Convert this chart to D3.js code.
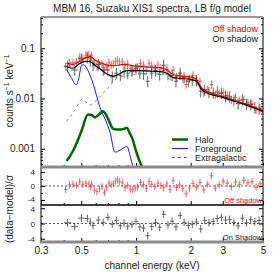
<!DOCTYPE html>
<html><head><meta charset="utf-8">
<script src="https://cdn.jsdelivr.net/npm/d3@7"></script>
<style>
body{margin:0;background:#fff}
text{font-family:"Liberation Sans",Arial,sans-serif}
</style>
</head><body>
<script>
// off-shadow spectrum (red)
var offE = [0.41,0.43,0.45,0.47,0.49,0.51,0.53,0.55,0.56,0.57,0.59,0.61,0.63,0.65,0.67,0.69,0.71,0.73,0.75,0.77,0.79,0.81,0.84,0.87,0.90,0.93,0.96,0.99,1.02,1.06,1.10,1.14,1.18,1.22,1.27,1.32,1.37,1.42,1.48,1.54,1.60,1.67,1.74,1.81,1.89,1.97,2.06,2.15,2.25,2.36,2.48,2.60,2.73,2.87,3.02,3.18,3.35,3.53,3.72,3.92,4.13,4.35,4.58,4.82];
var offRate = [0.043,0.051,0.052,0.053,0.066,0.063,0.073,0.074,0.065,0.071,0.050,0.043,0.047,0.049,0.036,0.044,0.052,0.047,0.049,0.055,0.058,0.054,0.054,0.045,0.049,0.040,0.038,0.040,0.042,0.050,0.046,0.037,0.050,0.045,0.040,0.046,0.041,0.036,0.040,0.028,0.037,0.027,0.029,0.025,0.019,0.025,0.029,0.023,0.022,0.013,0.015,0.019,0.0118,0.0127,0.0132,0.0115,0.0094,0.0105,0.0091,0.0095,0.0082,0.0078,0.0059,0.0064];
var offResid = [-1.0,0.3,0.5,0.2,1.2,0.4,0.8,0.6,-0.3,0.5,-1.2,-1.6,-0.8,-0.2,-1.8,-0.5,0.9,0.3,0.6,1.4,1.7,1.2,0.9,-0.4,0.2,-0.9,-1.1,-0.6,-0.3,1.0,0.4,-0.7,1.3,0.5,-0.2,0.8,0.1,-0.5,0.6,-1.0,1.5,-0.4,0.3,-0.8,-2.2,-0.6,0.7,-0.3,1.0,-1.1,0.5,2.9,-0.6,0.4,1.4,0.8,-0.2,1.1,0.5,1.6,0.9,1.2,-0.4,0.6];

// on-shadow spectrum (black)
var onE = [0.42,0.46,0.50,0.54,0.56,0.58,0.62,0.66,0.70,0.74,0.78,0.82,0.86,0.90,0.95,1.00,1.05,1.10,1.16,1.22,1.28,1.35,1.42,1.50,1.58,1.66,1.75,1.84,1.94,2.04,2.15,2.27,2.39,2.52,2.66,2.80,2.95,3.11,3.28,3.46,3.65,3.85,4.06,4.28,4.51,4.76];
var onRate = [0.044,0.037,0.062,0.066,0.057,0.046,0.048,0.037,0.037,0.027,0.032,0.029,0.034,0.032,0.035,0.039,0.032,0.031,0.022,0.032,0.036,0.030,0.046,0.030,0.029,0.022,0.032,0.026,0.022,0.023,0.023,0.014,0.0148,0.0133,0.0130,0.0135,0.0128,0.0112,0.0108,0.0093,0.0079,0.0094,0.0077,0.0076,0.0066,0.0062];
var onResid = [0.2,-0.8,1.4,1.3,0.4,-0.5,0.9,0.3,1.6,-0.2,0.8,-0.6,0.1,-0.7,-0.3,0.5,-0.9,-1.2,-3.2,-0.8,0.2,-1.0,2.4,-0.4,0.6,-0.9,2.1,0.3,-0.5,-0.2,0.4,-1.4,0.8,0.2,0.5,1.3,1.6,0.9,1.1,0.3,-0.6,1.4,0.2,1.0,0.5,0.8];

// model curves
var modelE = [0.415,0.45,0.49,0.53,0.56,0.60,0.65,0.70,0.75,0.80,0.85,0.90,1.0,1.2,1.4,1.5,1.6,1.8,2.0,2.15,2.3,2.4,3.0,4.0,5.0];
var modelOff = [0.050,0.048,0.055,0.065,0.068,0.057,0.050,0.046,0.045,0.046,0.048,0.047,0.044,0.042,0.040,0.036,0.030,0.028,0.027,0.024,0.016,0.0145,0.011,0.0078,0.0057];
var modelOn = [0.043,0.040,0.050,0.055,0.054,0.045,0.036,0.030,0.028,0.030,0.034,0.036,0.036,0.035,0.034,0.031,0.026,0.025,0.024,0.022,0.015,0.0135,0.0105,0.0075,0.0055];

var haloE = [0.415,0.45,0.50,0.544,0.57,0.595,0.625,0.658,0.69,0.72,0.747,0.78,0.82,0.86,0.892,0.92,0.96,1.0,1.04,1.08];
var halo = [0.00057,0.0009,0.0022,0.0048,0.0047,0.0042,0.0048,0.0056,0.0045,0.0032,0.0025,0.0024,0.0024,0.0025,0.0026,0.0021,0.0015,0.0009,0.0006,0.00043];
var fgE = [0.415,0.44,0.47,0.485,0.50,0.515,0.54,0.58,0.634,0.68,0.72,0.766,0.82,0.892,0.93,0.965];
var fg = [0.038,0.026,0.0188,0.026,0.045,0.047,0.038,0.020,0.0066,0.0037,0.0021,0.00085,0.00095,0.0011,0.0007,0.00042];
var egbE = [0.415,0.46,0.504,0.53,0.558,0.60,0.65,0.70,0.766,0.85,1.0,1.2,1.45,1.55,1.8,2.1,2.3,2.5,3.0,4.0,5.0];
var egb = [0.0035,0.0058,0.0095,0.0085,0.0075,0.009,0.012,0.016,0.0236,0.028,0.030,0.031,0.031,0.027,0.0235,0.022,0.0145,0.0132,0.0102,0.0073,0.0053];

var xTicks = [0.3,0.5,1,2,3,5];
var xMinor = [0.4,0.6,0.7,0.8,0.9,4];
var yTicks = [0.001,0.01,0.1];
var rTicks = [-4,0,4];

const W = 274, H = 274;
const pLeft = 41, pRight = 263;
const pTop = 17, mainBot = 167, midBot = 205, pBot = 242;

const svg = d3.select("body").append("svg")
  .attr("width", W).attr("height", H);

const x = d3.scaleLog().domain([0.3, 5]).range([pLeft, pRight]);
const yMain = d3.scaleLog().domain([0.000432, 0.42]).range([mainBot, pTop]);
const yR1 = d3.scaleLinear().domain([-5.4, 5.4]).range([midBot, mainBot]);
const yR2 = d3.scaleLinear().domain([-4.85, 4.85]).range([pBot, midBot]);

// clip paths for each panel
function clip(id, y0, y1) {
  svg.append("clipPath").attr("id", id).append("rect")
    .attr("x", pLeft).attr("y", y0).attr("width", pRight - pLeft).attr("height", y1 - y0);
}
clip("cMain", pTop, mainBot);
clip("cR1", mainBot, midBot);
clip("cR2", midBot, pBot);

function binEdges(E) {
  var n = E.length;
  return E.map(function(e, i) {
    var lo = i > 0 ? Math.sqrt(E[i-1] * e) : e / Math.sqrt(E[1] / E[0]);
    var hi = i < n - 1 ? Math.sqrt(e * E[i+1]) : e * Math.sqrt(E[n-1] / E[n-2]);
    return [lo, hi];
  });
}

function crosses(g, E, vals, lo, hi, yS, color, op) {
  var ed = binEdges(E);
  var grp = g.append("g").attr("stroke", color).attr("stroke-width", 1).attr("opacity", op);
  E.forEach(function(e, i) {
    grp.append("line").attr("x1", x(ed[i][0])).attr("x2", x(ed[i][1]))
      .attr("y1", yS(vals[i])).attr("y2", yS(vals[i]));
    grp.append("line").attr("x1", x(e)).attr("x2", x(e))
      .attr("y1", yS(lo[i])).attr("y2", yS(hi[i]));
  });
}

// ---------- main panel ----------
const gMain = svg.append("g").attr("clip-path", "url(#cMain)");
crosses(gMain, offE, offRate, offRate.map(v => v * 0.82), offRate.map(v => v * 1.2), yMain, "#ff1a1a", 0.7);
crosses(gMain, onE, onRate, onRate.map(v => v * 0.76), onRate.map(v => v * 1.28), yMain, "#222", 0.7);

function curve(E, V, color, w, dash) {
  var line = d3.line().x(d => x(d[0])).y(d => yMain(d[1])).curve(d3.curveMonotoneX);
  gMain.append("path").datum(E.map((e, i) => [e, V[i]]))
    .attr("d", line).attr("fill", "none").attr("stroke", color)
    .attr("stroke-width", w).attr("stroke-dasharray", dash || null);
}
curve(egbE, egb, "#888", 1, "3,3");
curve(modelE, modelOff, "#e00000", 1.2);
curve(modelE, modelOn, "#000", 1.2);
curve(fgE, fg, "#1a1aff", 1);
curve(haloE, halo, "#006400", 2.5);

// ---------- residual panels ----------
const gR1 = svg.append("g").attr("clip-path", "url(#cR1)");
const gR2 = svg.append("g").attr("clip-path", "url(#cR2)");
[[gR1, yR1], [gR2, yR2]].forEach(function(p) {
  p[0].append("line").attr("x1", pLeft).attr("x2", pRight)
    .attr("y1", p[1](0)).attr("y2", p[1](0))
    .attr("stroke", "#333").attr("stroke-width", 0.8).attr("stroke-dasharray", "2,2");
});
crosses(gR1, offE, offResid, offResid.map(v => v - 1), offResid.map(v => v + 1), yR1, "#ff1a1a", 0.7);
crosses(gR2, onE, onResid, onResid.map(v => v - 1), onResid.map(v => v + 1), yR2, "#222", 0.7);

// ---------- axes ----------
function yAxes(scale, ticks, minor, fmt, fs) {
  var l = svg.append("g").attr("transform", "translate(" + pLeft + ",0)")
    .call(d3.axisLeft(scale).tickValues(ticks).tickSizeInner(-4).tickSizeOuter(0).tickPadding(6).tickFormat(fmt));
  l.select(".domain").remove();
  l.selectAll("text").style("font-size", fs).attr("fill", "#222");
  var r = svg.append("g").attr("transform", "translate(" + pRight + ",0)")
    .call(d3.axisRight(scale).tickValues(ticks).tickSizeInner(-4).tickSizeOuter(0).tickFormat(""));
  r.select(".domain").remove();
  if (minor) {
    [pLeft, pRight].forEach(function(px, k) {
      var a = (k === 0 ? d3.axisLeft(scale) : d3.axisRight(scale)).tickValues(minor).tickSizeInner(-2).tickSizeOuter(0).tickFormat("");
      svg.append("g").attr("transform", "translate(" + px + ",0)").call(a).select(".domain").remove();
    });
  }
  return l;
}
var yMinor = [];
[0.0001, 0.001, 0.01, 0.1].forEach(function(d) {
  for (var k = 2; k <= 9; k++) if (d * k > 0.000432 && d * k < 0.42) yMinor.push(d * k);
});
yAxes(yMain, yTicks, yMinor, d => String(d), "10px");
var ax1 = yAxes(yR1, rTicks, [-2, 2], d => d < 0 ? "-" + Math.abs(d) : String(d), "8px");
var ax2 = yAxes(yR2, rTicks, [-2, 2], d => d < 0 ? "-" + Math.abs(d) : String(d), "8px");
// keep the touching "-4" / "4" labels apart
ax1.selectAll("text").filter(d => d === -4).attr("transform", "translate(0,-1)");
ax2.selectAll("text").filter(d => d === 4).attr("transform", "translate(0,1)");

// x ticks along the bottom of each panel
[mainBot, midBot, pBot].forEach(function(py) {
  var g1 = svg.append("g").attr("transform", "translate(0," + py + ")")
    .call(d3.axisBottom(x).tickValues(xTicks).tickSizeInner(-4).tickSizeOuter(0).tickPadding(5).tickFormat(d => String(d)));
  g1.select(".domain").remove();
  if (py !== pBot) g1.selectAll("text").remove();
  else g1.selectAll("text").style("font-size", "10px").attr("fill", "#222");
  svg.append("g").attr("transform", "translate(0," + py + ")")
    .call(d3.axisBottom(x).tickValues(xMinor).tickSizeInner(-2).tickSizeOuter(0).tickFormat(""))
    .select(".domain").remove();
});

// frame
svg.append("line").attr("x1", pLeft).attr("x2", pLeft).attr("y1", pTop).attr("y2", pBot).attr("stroke", "#000");
svg.append("line").attr("x1", pRight).attr("x2", pRight).attr("y1", pTop).attr("y2", pBot).attr("stroke", "#000");
svg.append("line").attr("x1", pLeft).attr("x2", pRight).attr("y1", pTop).attr("y2", pTop).attr("stroke", "#999").attr("stroke-width", 2);
svg.append("line").attr("x1", pLeft - 1).attr("x2", pRight + 1).attr("y1", mainBot).attr("y2", mainBot).attr("stroke", "#8a8a8a").attr("stroke-width", 3);
svg.append("line").attr("x1", pLeft).attr("x2", pRight).attr("y1", midBot).attr("y2", midBot).attr("stroke", "#000").attr("stroke-width", 1.3);
svg.append("line").attr("x1", pLeft - 1).attr("x2", pRight + 1).attr("y1", pBot).attr("y2", pBot).attr("stroke", "#8a8a8a").attr("stroke-width", 3);

// ---------- text ----------
svg.append("text").attr("x", 152).attr("y", 12).attr("text-anchor", "middle")
  .style("font-size", "10px").attr("fill", "#222")
  .text("MBM 16, Suzaku XIS1 spectra, LB f/g model");
svg.append("text").attr("x", 152).attr("y", 269).attr("text-anchor", "middle")
  .style("font-size", "10px").attr("fill", "#222").text("channel energy (keV)");

var yl = svg.append("text").attr("transform", "translate(13,91) rotate(-90)")
  .attr("text-anchor", "middle").style("font-size", "10px").attr("fill", "#222");
yl.append("tspan").text("counts s");
yl.append("tspan").attr("dy", -4).style("font-size", "7px").text("\u22121");
yl.append("tspan").attr("dy", 4).text(" keV");
yl.append("tspan").attr("dy", -4).style("font-size", "7px").text("\u22121");

svg.append("text").attr("transform", "translate(13,209) rotate(-90)")
  .attr("text-anchor", "middle").style("font-size", "10px").attr("fill", "#222")
  .text("(data\u2212model)/\u03c3");

svg.append("text").attr("x", 258).attr("y", 32).attr("text-anchor", "end")
  .style("font-size", "9px").attr("fill", "#ff0000").text("Off shadow");
svg.append("text").attr("x", 258).attr("y", 42).attr("text-anchor", "end")
  .style("font-size", "9px").attr("fill", "#111").text("On shadow");

svg.append("text").attr("x", 262).attr("y", 203).attr("text-anchor", "end")
  .style("font-size", "7.5px").attr("fill", "#ff0000").text("Off shadow");
svg.append("text").attr("x", 262).attr("y", 240).attr("text-anchor", "end")
  .style("font-size", "7.5px").attr("fill", "#111").text("On Shadow");

// component legend
var legNames = ["Halo", "Foreground", "Extragalactic"];
var legColors = ["#006400", "#1a1aff", "#666"];
var legWidths = [2.5, 1, 1];
var legDash = [null, null, "3,3"];
legNames.forEach(function(n, i) {
  var yy = 139.5 + i * 9;
  svg.append("line").attr("x1", 172).attr("x2", 188).attr("y1", yy).attr("y2", yy)
    .attr("stroke", legColors[i]).attr("stroke-width", legWidths[i]).attr("stroke-dasharray", legDash[i]);
  svg.append("text").attr("x", 195).attr("y", yy + 3.2).style("font-size", "9px")
    .attr("fill", "#222").text(n);
});
</script>
</body></html>
